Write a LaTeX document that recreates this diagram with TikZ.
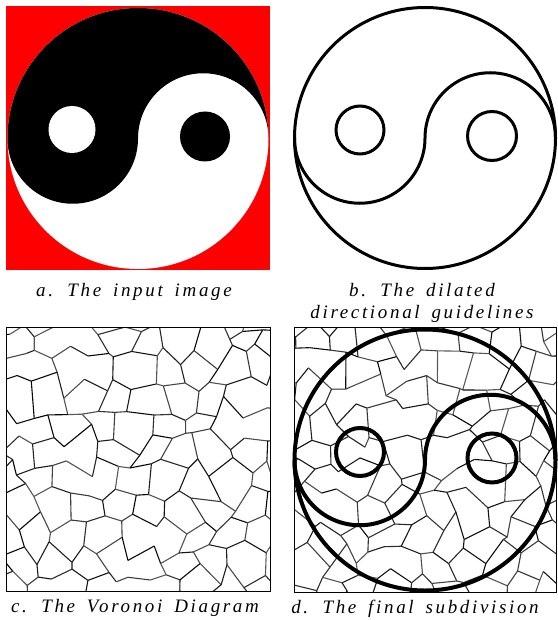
\documentclass[tikz,border=0pt]{standalone}
\usepackage{fontspec}
\setmainfont{Liberation Serif}
\newfontfamily\capfont[LetterSpace=14,WordSpace=1.6,ItalicFont={Liberation Serif Italic}]{Liberation Serif}
\usetikzlibrary{positioning}
\definecolor{inputred}{HTML}{FF0000}
\tikzset{caption/.style={font=\capfont\itshape\fontsize{19}{22}\selectfont,anchor=base,inner sep=0pt}, cell/.style={line width=1.1pt,line join=round}, frame/.style={draw=black,line width=1pt}, guides/.pic={
  \draw (0,0) circle[radius=130.5];
  \draw (-130.5,0) arc[start angle=180,end angle=0,radius=65.25] arc[start angle=180,end angle=360,radius=65.25];
  \draw (-65,-8) circle[radius=24];
  \draw (67,-2) circle[radius=24.5];}}
% #1 prefix, #2 x0, #3 y0, #4 seed
\newcommand{\cellmesh}[4]{%
  \pgfmathsetseed{#4}
  \foreach \j in {0,...,12}{
    \foreach \k in {0,...,19}{
      \pgfmathsetmacro\zig{ifthenelse(isodd(\k+\j),-4.5,4.5)}
      \pgfmathsetmacro\px{#2+\k*16+7.5*rand}
      \pgfmathsetmacro\py{#3+\j*28+\zig+9*rand+4*sin(\k*47+\j*71)}
      \coordinate (#1-\k-\j) at (\px,\py);
    }
  }
  \foreach \j [evaluate=\j as \jj using int(\j+1)] in {0,...,12}{
    \foreach \k [evaluate=\k as \kk using int(\k+1)] in {0,...,19}{
      \pgfmathsetmacro\tone{int(65+35*rnd)}
      \ifnum\k<19 \draw[cell,draw=black!\tone] (#1-\k-\j) -- (#1-\kk-\j);\fi
      \pgfmathparse{int(mod(\k+\j,2))}
      \ifnum\pgfmathresult=0 \pgfmathparse{int(rnd<0.9)}
        \ifnum\pgfmathresult=1 \ifnum\j<12 \draw[cell,draw=black!\tone] (#1-\k-\j) -- (#1-\k-\jj);\fi\fi\fi
    }
  }
}

\begin{document}
\begin{tikzpicture}[x=1pt,y=-1pt]
\useasboundingbox (0,0) rectangle (557,620);
% a
\fill[inputred] (6,6) rectangle (270,270);
\begin{scope}[shift={(138,138.5)}]
\fill[white] (0,0) circle[radius=130.5];
\fill[black] (-130.5,0) arc[start angle=180,end angle=360,radius=130.5] arc[start angle=0,end angle=-180,radius=65.25] arc[start angle=0,end angle=180,radius=65.25] -- cycle;
\fill[white] (-66,-9) circle[radius=23.5];
\fill[black] (67,-2) circle[radius=25];
\end{scope}
\node[caption] (capa) at (134,296) {a. The input image};
% b
\pic[line width=3pt] (guideb) at (425,138) {guides};
\node[caption] (capb) at (422,296) {b. The dilated};
\node[caption] (capb2) at (422,318) {directional guidelines};
% c
\begin{scope}
\clip (6,327) rectangle (270,591);
\cellmesh{vc}{-10}{299}{41}
\end{scope}
\draw[frame] (6,327) rectangle (270,591);
\node[caption] (capc) at (135,612) {c. The Voronoi Diagram};
% d
\begin{scope}
\clip (294,327) rectangle (556,592);
\cellmesh{vd}{278}{299}{97}
\end{scope}
\draw[frame] (294,327) rectangle (556,592);
\pic[line width=4pt] (guided) at (425,460) {guides};
\node[caption] (capd) at (415,613) {d. The final subdivision};
\end{tikzpicture}
\end{document}
